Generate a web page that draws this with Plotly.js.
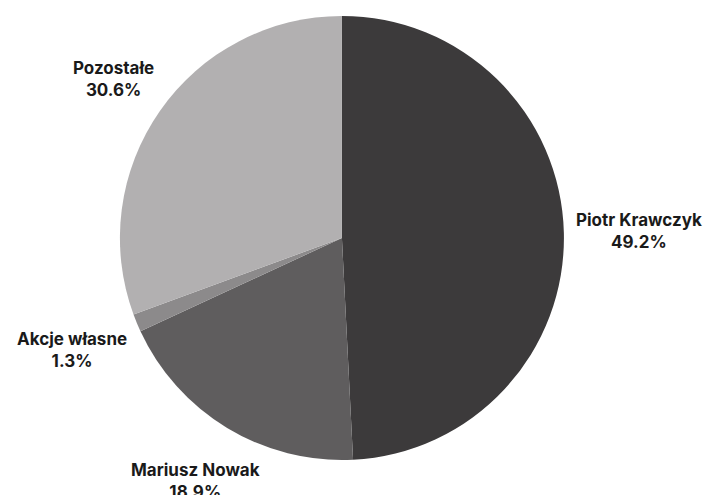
<!DOCTYPE html>
<html>
<head>
<meta charset="utf-8">
<script src="https://cdn.plot.ly/plotly-3.0.1.min.js"></script>
<style>html,body{margin:0;padding:0;background:#fff;}#chart{width:705px;height:495px;}</style>
</head>
<body>
<div id="chart"></div>
<script>
const labels = ["Piotr Krawczyk", "Mariusz Nowak", "Akcje własne", "Pozostałe"];
const values = [49.2, 18.9, 1.3, 30.6];
const colors = ["#3c3a3b", "#5f5d5e", "#8c8a8b", "#b2b0b1"];

const W = 705, H = 495;
const domX = [0.170, 0.800], domY = [0.0707, 0.9677];
const FONT_SIZE = 17;
const FONT_FAMILY = "Inter, Roboto, sans-serif";

// pie geometry in pixels (margins are zero)
const cx = (domX[0] + domX[1]) / 2 * W;
const cy = H - (domY[0] + domY[1]) / 2 * H;
const R = Math.min((domX[1] - domX[0]) * W, (domY[1] - domY[0]) * H) / 2;

// measure label widths for outside placement
const ctx = document.createElement("canvas").getContext("2d");
ctx.font = "bold " + FONT_SIZE + "px Inter, Roboto, sans-serif";
const total = values.reduce((a, b) => a + b, 0);
const annotations = [];
let cum = 0;
values.forEach((v, i) => {
  const pct = (v / total * 100).toFixed(1) + "%";
  const mid = (cum + v / 2) / total * 2 * Math.PI; // clockwise from 12 o'clock
  cum += v;
  const dx = Math.sin(mid), dy = -Math.cos(mid); // screen coords (y down)
  const w = Math.max(ctx.measureText(labels[i]).width, ctx.measureText(pct).width);
  const h = 40;
  const dist = R * 1.052 + Math.abs(dx) * w / 2 + Math.abs(dy) * h / 2;
  const px = cx + dx * dist, py = cy + dy * dist;
  annotations.push({
    xref: "paper", yref: "paper",
    x: px / W, y: 1 - py / H,
    xanchor: "center", yanchor: "middle",
    showarrow: false,
    align: "center",
    text: "<b>" + labels[i] + "</b><br><b>" + pct + "</b>",
    font: {family: FONT_FAMILY, size: FONT_SIZE, color: "#1a1a1a"}
  });
});

const trace = {
  type: "pie",
  labels: labels,
  values: values,
  sort: false,
  direction: "clockwise",
  rotation: 0,
  marker: {colors: colors, line: {width: 0}},
  textinfo: "none",
  hoverinfo: "none",
  automargin: false,
  domain: {x: domX, y: domY},
  showlegend: false
};

Plotly.newPlot("chart", [trace], {
  width: W, height: H,
  margin: {l: 0, r: 0, t: 0, b: 0},
  paper_bgcolor: "#ffffff",
  showlegend: false,
  annotations: annotations
}, {displayModeBar: false, staticPlot: true});
</script>
</body>
</html>
